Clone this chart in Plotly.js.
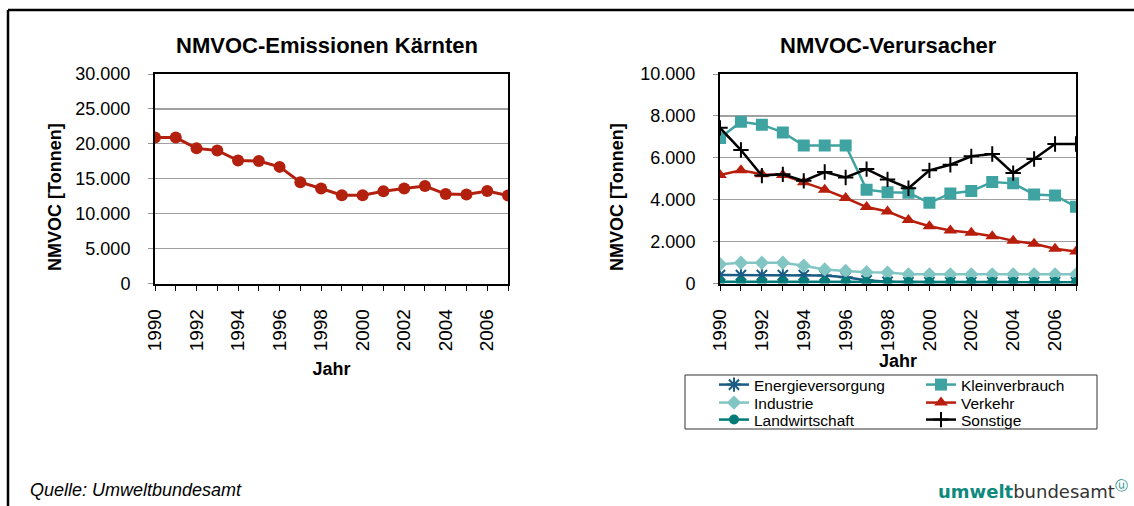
<!DOCTYPE html>
<html>
<head>
<meta charset="utf-8">
<script src="https://cdn.plot.ly/plotly-3.0.1.min.js"></script>
<style>
html,body{margin:0;padding:0;background:#fff;}
#chart{width:1134px;height:506px;}
</style>
</head>
<body>
<div id="chart"></div>
<script>
// ---- data ----
var years = [1990,1991,1992,1993,1994,1995,1996,1997,1998,1999,2000,2001,2002,2003,2004,2005,2006,2007];
var totalKaernten = [20900,20900,19350,19050,17600,17550,16700,14500,13600,12650,12650,13200,13600,13950,12800,12750,13250,12600];
var energieversorgung = [400,400,400,400,400,380,300,150,80,60,60,60,60,60,60,60,60,60];
var kleinverbrauch = [6950,7720,7580,7210,6590,6590,6590,4480,4360,4330,3850,4300,4410,4840,4780,4250,4200,3660];
var industrie = [920,990,990,990,850,670,600,540,520,440,440,440,440,440,440,440,440,440];
var verkehr = [5180,5410,5220,5180,4830,4480,4080,3650,3440,3030,2730,2530,2420,2260,2040,1900,1660,1530];
var landwirtschaft = [80,80,80,80,80,80,80,70,70,70,70,70,70,70,70,70,70,70];
var sonstige = [7430,6370,5150,5210,4900,5320,5060,5460,4970,4550,5400,5670,6070,6180,5270,5940,6660,6660];
var tickYears = [1990,1992,1994,1996,1998,2000,2002,2004,2006];

var W = 1134, H = 506;
function px(x){return x/W;}
function py(y){return 1 - y/H;}

var FONT = 'Liberation Sans, Arial, Helvetica, sans-serif';

var traces = [
  {x: years, y: totalKaernten, type:'scatter', mode:'lines+markers', name:'NMVOC Kärnten',
   xaxis:'x', yaxis:'y', showlegend:false,
   line:{color:'#B3200E', width:3}, marker:{symbol:'circle', size:12, color:'#B3200E'}},
  {x: years, y: energieversorgung, type:'scatter', mode:'lines+markers', name:'Energieversorgung',
   xaxis:'x2', yaxis:'y2', legend:'legend',
   line:{color:'#1B5C84', width:2.5}, marker:{symbol:'asterisk-open', size:12, color:'#1B5C84', line:{width:2, color:'#1B5C84'}}},
  {x: years, y: kleinverbrauch, type:'scatter', mode:'lines+markers', name:'Kleinverbrauch',
   xaxis:'x2', yaxis:'y2', legend:'legend',
   line:{color:'#3FA3A1', width:2.5}, marker:{symbol:'square', size:12, color:'#3FA3A1'}},
  {x: years, y: industrie, type:'scatter', mode:'lines+markers', name:'Industrie',
   xaxis:'x2', yaxis:'y2', legend:'legend2',
   line:{color:'#82C6C4', width:2.5}, marker:{symbol:'diamond', size:11, color:'#82C6C4'}},
  {x: years, y: verkehr, type:'scatter', mode:'lines+markers', name:'Verkehr',
   xaxis:'x2', yaxis:'y2', legend:'legend2',
   line:{color:'#B81E0C', width:2.5}, marker:{symbol:'triangle-up', size:12, color:'#B81E0C'}},
  {x: years, y: landwirtschaft, type:'scatter', mode:'lines+markers', name:'Landwirtschaft',
   xaxis:'x2', yaxis:'y2', legend:'legend3',
   line:{color:'#007B78', width:2.5}, marker:{symbol:'circle', size:10, color:'#007B78'}},
  {x: years, y: sonstige, type:'scatter', mode:'lines+markers', name:'Sonstige',
   xaxis:'x2', yaxis:'y2', legend:'legend3',
   line:{color:'#000000', width:2.5}, marker:{symbol:'cross-thin-open', size:11, color:'#000', line:{width:2, color:'#000'}}}
];

function xAxis(domain, standoff){
  return {
    domain: domain, range:[1990,2007], tickmode:'array', tickvals: tickYears,
    ticktext: tickYears.map(String), tickangle:-90,
    ticks:'outside', ticklen:5, tickcolor:'#000', tickwidth:1,
    ticklabelstandoff: 11,
    minor:{tickmode:'array', tickvals: years, ticks:'outside', ticklen:5, tickcolor:'#000', showgrid:false},
    showline:true, mirror:true, linecolor:'#000', linewidth:2,
    showgrid:false, zeroline:false, fixedrange:true,
    tickfont:{family:FONT, size:19, color:'#000'},
    title:{text:'<b>Jahr</b>', font:{family:FONT, size:18, color:'#000'}, standoff: standoff}
  };
}
function yAxis(domain, max, dtick, anchor){
  return {
    domain: domain, range:[0,max], dtick: dtick, tick0:0, anchor: anchor,
    tickformat:',.0f',
    ticks:'outside', ticklen:5, tickcolor:'#999', tickwidth:1,
    ticklabelstandoff: 14,
    showline:true, mirror:true, linecolor:'#000', linewidth:2,
    showgrid:true, gridcolor:'#A0A0A0', gridwidth:1.3, zeroline:false, fixedrange:true,
    tickfont:{family:FONT, size:18, color:'#000'}
  };
}
function legendRow(yc){
  return {x: px(714), y: py(yc), xanchor:'left', yanchor:'middle', orientation:'h',
          entrywidth:162, entrywidthmode:'pixels',
          bgcolor:'rgba(0,0,0,0)', borderwidth:0, font:{family:FONT, size:15.5, color:'#000'},
          traceorder:'normal', itemclick:false, itemdoubleclick:false};
}

var yDom = [py(283.5), py(74)];

var layout = {
  width: W, height: H,
  margin:{l:0, r:0, t:0, b:0, autoexpand:false},
  paper_bgcolor:'#fff', plot_bgcolor:'#fff',
  separators: ',.',
  font:{family:FONT, color:'#000'},
  xaxis: Object.assign(xAxis([px(155), px(508)], 12), {anchor:'y'}),
  yaxis: yAxis(yDom, 30000, 5000, 'x'),
  xaxis2: Object.assign(xAxis([px(720), px(1076)], 2), {anchor:'y2'}),
  yaxis2: yAxis(yDom, 10000, 2000, 'x2'),
  legend: legendRow(385),
  legend2: legendRow(403),
  legend3: legendRow(420),
  shapes:[
    {type:'line', xref:'paper', yref:'paper', x0:px(8), x1:px(8), y0:0, y1:py(10), line:{color:'#000', width:2.5}},
    {type:'line', xref:'paper', yref:'paper', x0:px(8), x1:1, y0:py(10), y1:py(10), line:{color:'#000', width:2.5}},
    {type:'rect', xref:'paper', yref:'paper', x0:px(685), x1:px(1097), y0:py(429), y1:py(375), line:{color:'#333', width:1}}
  ],
  annotations:[
    {text:'<b>NMVOC-Emissionen Kärnten</b>', xref:'paper', yref:'paper', x:px(327), y:py(45),
     xanchor:'center', yanchor:'middle', showarrow:false, font:{family:FONT, size:22, color:'#000'}},
    {text:'<b>NMVOC-Verursacher</b>', xref:'paper', yref:'paper', x:px(888), y:py(45),
     xanchor:'center', yanchor:'middle', showarrow:false, font:{family:FONT, size:22, color:'#000'}},
    {text:'<b>NMVOC [Tonnen]</b>', xref:'paper', yref:'paper', x:px(55), y:py(197), textangle:-90,
     xanchor:'center', yanchor:'middle', showarrow:false, font:{family:FONT, size:18, color:'#000'}},
    {text:'<b>NMVOC [Tonnen]</b>', xref:'paper', yref:'paper', x:px(617), y:py(197), textangle:-90,
     xanchor:'center', yanchor:'middle', showarrow:false, font:{family:FONT, size:18, color:'#000'}},
    {text:'<i>Quelle: Umweltbundesamt</i>', xref:'paper', yref:'paper', x:px(28), y:py(490),
     xanchor:'left', yanchor:'middle', showarrow:false, font:{family:FONT, size:18, color:'#000'}},
    {text:'<b><span style="color:#0E8A7D">umwelt</span></b><span style="color:#333">bundesamt</span><sup><span style="color:#0E8A7D">ⓤ</span></sup>',
     xref:'paper', yref:'paper', x:px(1130), y:py(490),
     xanchor:'right', yanchor:'middle', showarrow:false, font:{family:'DejaVu Sans, sans-serif', size:18, color:'#333'}}
  ]
};

Plotly.newPlot('chart', traces, layout, {displayModeBar:false, staticPlot:true});
</script>
</body>
</html>
